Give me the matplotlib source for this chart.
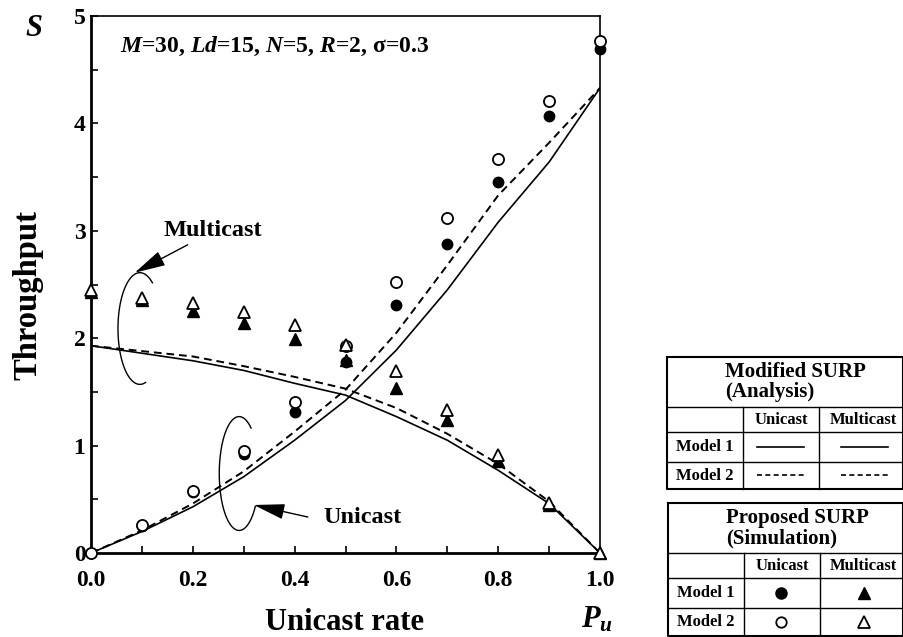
import numpy as np
import matplotlib
matplotlib.use("Agg")
import matplotlib.pyplot as plt

plt.rcParams['font.family'] = ['Liberation Serif', 'DejaVu Serif']
plt.rcParams['font.weight'] = 'bold'
plt.rcParams['mathtext.fontset'] = 'custom'
plt.rcParams['mathtext.it'] = 'Liberation Serif:italic:bold'
plt.rcParams['mathtext.rm'] = 'Liberation Serif:bold'
plt.rcParams['mathtext.bf'] = 'Liberation Serif:bold'

# Datos
pu = [0.0, 0.1, 0.2, 0.3, 0.4, 0.5, 0.6, 0.7, 0.8, 0.9, 1.0]

# Analisis (Modified SURP)
uni_mod1 = [0.0, 0.20, 0.43, 0.71, 1.05, 1.42, 1.89, 2.45, 3.08, 3.64, 4.33]
uni_mod2 = [0.0, 0.21, 0.46, 0.76, 1.13, 1.52, 2.05, 2.68, 3.33, 3.82, 4.33]
multi_mod1 = [1.93, 1.86, 1.79, 1.70, 1.58, 1.47, 1.27, 1.05, 0.77, 0.46, 0.0]
multi_mod2 = [1.93, 1.88, 1.83, 1.74, 1.64, 1.53, 1.35, 1.11, 0.83, 0.48, 0.0]

# Simulacion (Proposed SURP)
uni_sim1 = [0.0, 0.25, 0.57, 0.92, 1.31, 1.78, 2.31, 2.88, 3.45, 4.07, 4.69]
uni_sim2 = [0.0, 0.26, 0.58, 0.95, 1.41, 1.93, 2.52, 3.12, 3.67, 4.21, 4.77]
multi_sim1 = [2.43, 2.36, 2.25, 2.14, 1.99, 1.80, 1.54, 1.24, 0.86, 0.45, 0.0]
multi_sim2 = [2.45, 2.37, 2.33, 2.24, 2.12, 1.94, 1.69, 1.33, 0.91, 0.47, 0.0]

W, H = 904, 637
fig = plt.figure(figsize=(W / 100, H / 100), dpi=100)
ax = fig.add_axes([91 / W, 1 - 553 / H, 509 / W, 537 / H])

dash = (0, (4, 2.5))
ax.plot(pu, uni_mod1, color='black', lw=1.2)
ax.plot(pu, uni_mod2, color='black', lw=1.4, linestyle=dash)
ax.plot(pu, multi_mod1, color='black', lw=1.2)
ax.plot(pu, multi_mod2, color='black', lw=1.4, linestyle=dash)

ax.plot(pu, uni_sim1, 'o', color='black', ms=7.5, clip_on=False, zorder=5)
ax.plot(pu, multi_sim1, '^', color='black', ms=8, clip_on=False, zorder=5)
ax.plot(pu, uni_sim2, 'o', mfc='white', mec='black', mew=1.3, ms=8, clip_on=False, zorder=6)
ax.plot(pu, multi_sim2, '^', mfc='white', mec='black', mew=1.3, ms=8.5, clip_on=False, zorder=6)

ax.set_xlim(0, 1)
ax.set_ylim(0, 5)
ax.set_xticks(np.arange(0, 1.01, 0.2))
ax.set_xticks(np.arange(0.1, 1.0, 0.2), minor=True)
ax.set_yticks(range(6))
ax.set_yticks(np.arange(0.5, 5, 1.0), minor=True)
ax.set_xticklabels(['0.0', '0.2', '0.4', '0.6', '0.8', '1.0'])
ax.tick_params(which='both', direction='in', length=5, width=1.2, top=False, right=False)
ax.tick_params(axis='x', labelsize=17, pad=12)
ax.tick_params(axis='y', labelsize=17, pad=4)
for s in ['left', 'bottom']:
    ax.spines[s].set_linewidth(2.0)
for s in ['top', 'right']:
    ax.spines[s].set_linewidth(1.2)

# anotaciones
ax.text(0.057, 4.72, r'$M$=30, $Ld$=15, $N$=5, $R$=2, σ=0.3', fontsize=17, va='center', ha='left')

def elipse(cx, cy, rx, ry, a1, a2):
    t = np.radians(np.linspace(a1, a2, 120))
    ax.plot(cx + rx * np.cos(t), cy + ry * np.sin(t), color='black', lw=1.0)

elipse(0.096, 2.09, 0.043, 0.52, 55, 285)
elipse(0.291, 0.74, 0.039, 0.53, 53, 325)

flecha = dict(arrowstyle='-|>,head_length=1.2,head_width=0.3', color='black', lw=1.0,
              shrinkA=0, shrinkB=0, mutation_scale=16)
ax.annotate('', xy=(0.086, 2.61), xytext=(0.19, 2.87), arrowprops=flecha)
ax.annotate('', xy=(0.32, 0.447), xytext=(0.426, 0.335), arrowprops=flecha)
ax.text(0.24, 3.0, 'Multicast', fontsize=17.5, ha='center', va='center')
ax.text(0.456, 0.335, 'Unicast', fontsize=17.5, ha='left', va='center')

fig.text(28 / W, 1 - 295 / H, 'Throughput', fontsize=23.5, rotation=90, ha='center', va='center')
fig.text(345 / W, 1 - 630 / H, 'Unicast rate', fontsize=22, ha='center', va='baseline')
fig.text(597 / W, 1 - 627 / H, r'$P_u$', fontsize=22, ha='center', va='baseline')
fig.text(34 / W, 1 - 29 / H, r'$S$', fontsize=22, ha='center', va='center')

# tablas de leyenda (coordenadas en pixeles)
lg = fig.add_axes([0, 0, 1, 1], facecolor='none')
lg.set_xlim(0, W)
lg.set_ylim(H, 0)
lg.axis('off')

def tabla(x0, x1, c1, c2, ys, titulo):
    y0, yh, yc, ym1, ym2 = ys
    lg.plot([x0, x1, x1, x0, x0], [y0, y0, ym2, ym2, y0], color='black', lw=1.5, clip_on=False)
    for y in (yh, yc, ym1):
        lg.plot([x0, x1], [y, y], color='black', lw=1.0)
    lg.plot([c1, c1], [yh, ym2], color='black', lw=1.0)
    lg.plot([c2, c2], [yh, ym2], color='black', lw=1.0)
    lg.text(x0 + 58, (y0 + yh) / 2, titulo, fontsize=15, ha='left', va='center', linespacing=1.0)
    lg.text((c1 + c2) / 2, (yh + yc) / 2, 'Unicast', fontsize=12, ha='center', va='center')
    lg.text((c2 + x1) / 2 + 2, (yh + yc) / 2, 'Multicast', fontsize=12, ha='center', va='center')
    lg.text((x0 + c1) / 2, (yc + ym1) / 2, 'Model 1', fontsize=12, ha='center', va='center')
    lg.text((x0 + c1) / 2, (ym1 + ym2) / 2, 'Model 2', fontsize=12, ha='center', va='center')

tabla(667, 903, 743, 819, (357, 407, 432, 462, 489), 'Modified SURP\n(Analysis)')
tabla(668, 903, 744, 820, (503, 553, 578, 608, 636), 'Proposed SURP\n(Simulation)')

lg.plot([757, 804], [447, 447], color='black', lw=1.2)
lg.plot([841, 888], [447, 447], color='black', lw=1.2)
lg.plot([757, 804], [475, 475], color='black', lw=1.2, linestyle=(0, (3, 2)))
lg.plot([841, 888], [475, 475], color='black', lw=1.2, linestyle=(0, (3, 2)))

lg.plot([781], [593], 'o', color='black', ms=8)
lg.plot([864], [593], '^', color='black', ms=8.5)
lg.plot([781], [622], 'o', mfc='white', mec='black', mew=1.3, ms=7.5)
lg.plot([864], [622], '^', mfc='white', mec='black', mew=1.3, ms=8)

fig.savefig('out.png', dpi=100)
